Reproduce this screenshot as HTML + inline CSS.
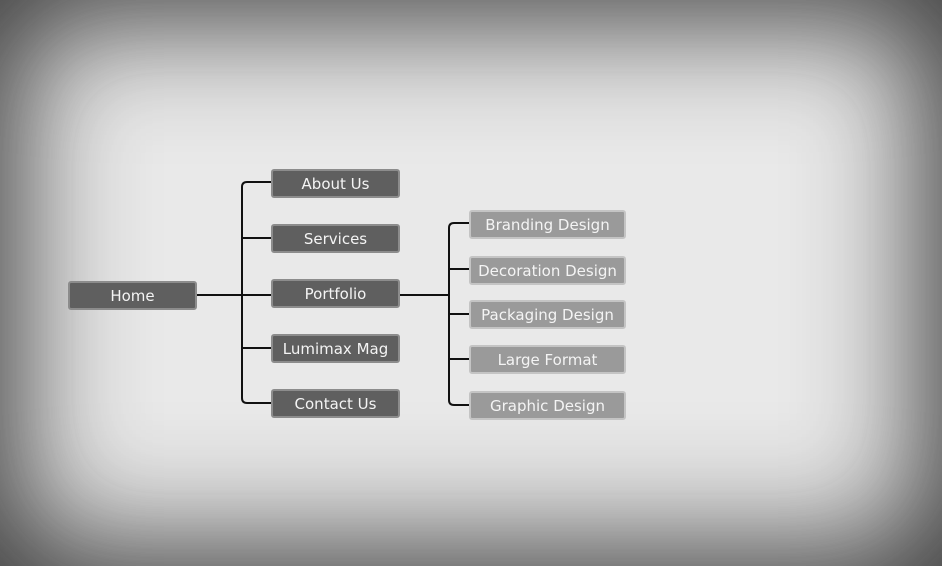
<!DOCTYPE html>
<html><head><style>
html,body{margin:0;padding:0}
body{width:942px;height:566px;overflow:hidden;position:relative;background:#e9e9e9;
font-family:"DejaVu Sans","Liberation Sans",sans-serif;}
.v{position:absolute;left:0;top:0;width:942px;height:566px;box-shadow:inset 0 0 120px 20px rgba(40,40,40,0.9);}
.b{position:absolute;box-sizing:border-box;border-radius:3px;color:#f4f4f4;font-size:15px;text-align:center;line-height:26px;}
.d{background:#5f5f5f;border:2px solid #8c8c8c;width:129px;height:29px;}
.l{background:#9a9a9a;border:2px solid #c4c4c4;width:157px;height:29px;}
svg{position:absolute;left:0;top:0}
</style></head><body>
<div class="v"></div>
<svg width="942" height="566">
<g stroke="#111" stroke-width="2" fill="none">
<line x1="196" y1="295" x2="271" y2="295"/>
<path d="M271 182 H247 Q242 182 242 187 V398 Q242 403 247 403 H271"/>
<line x1="242" y1="238" x2="271" y2="238"/>
<line x1="242" y1="348" x2="271" y2="348"/>
<line x1="400" y1="295" x2="449" y2="295"/>
<path d="M469 223 H454 Q449 223 449 228 V400 Q449 405 454 405 H469"/>
<line x1="449" y1="269" x2="469" y2="269"/>
<line x1="449" y1="314" x2="469" y2="314"/>
<line x1="449" y1="359" x2="469" y2="359"/>
</g></svg>
<div class="b d" style="left:68px;top:281px;width:129px">Home</div>
<div class="b d" style="left:271px;top:169px">About Us</div>
<div class="b d" style="left:271px;top:224px">Services</div>
<div class="b d" style="left:271px;top:279px">Portfolio</div>
<div class="b d" style="left:271px;top:334px">Lumimax Mag</div>
<div class="b d" style="left:271px;top:389px">Contact Us</div>
<div class="b l" style="left:469px;top:210px">Branding Design</div>
<div class="b l" style="left:469px;top:256px">Decoration Design</div>
<div class="b l" style="left:469px;top:300px">Packaging Design</div>
<div class="b l" style="left:469px;top:345px">Large Format</div>
<div class="b l" style="left:469px;top:391px">Graphic Design</div>
</body></html>
